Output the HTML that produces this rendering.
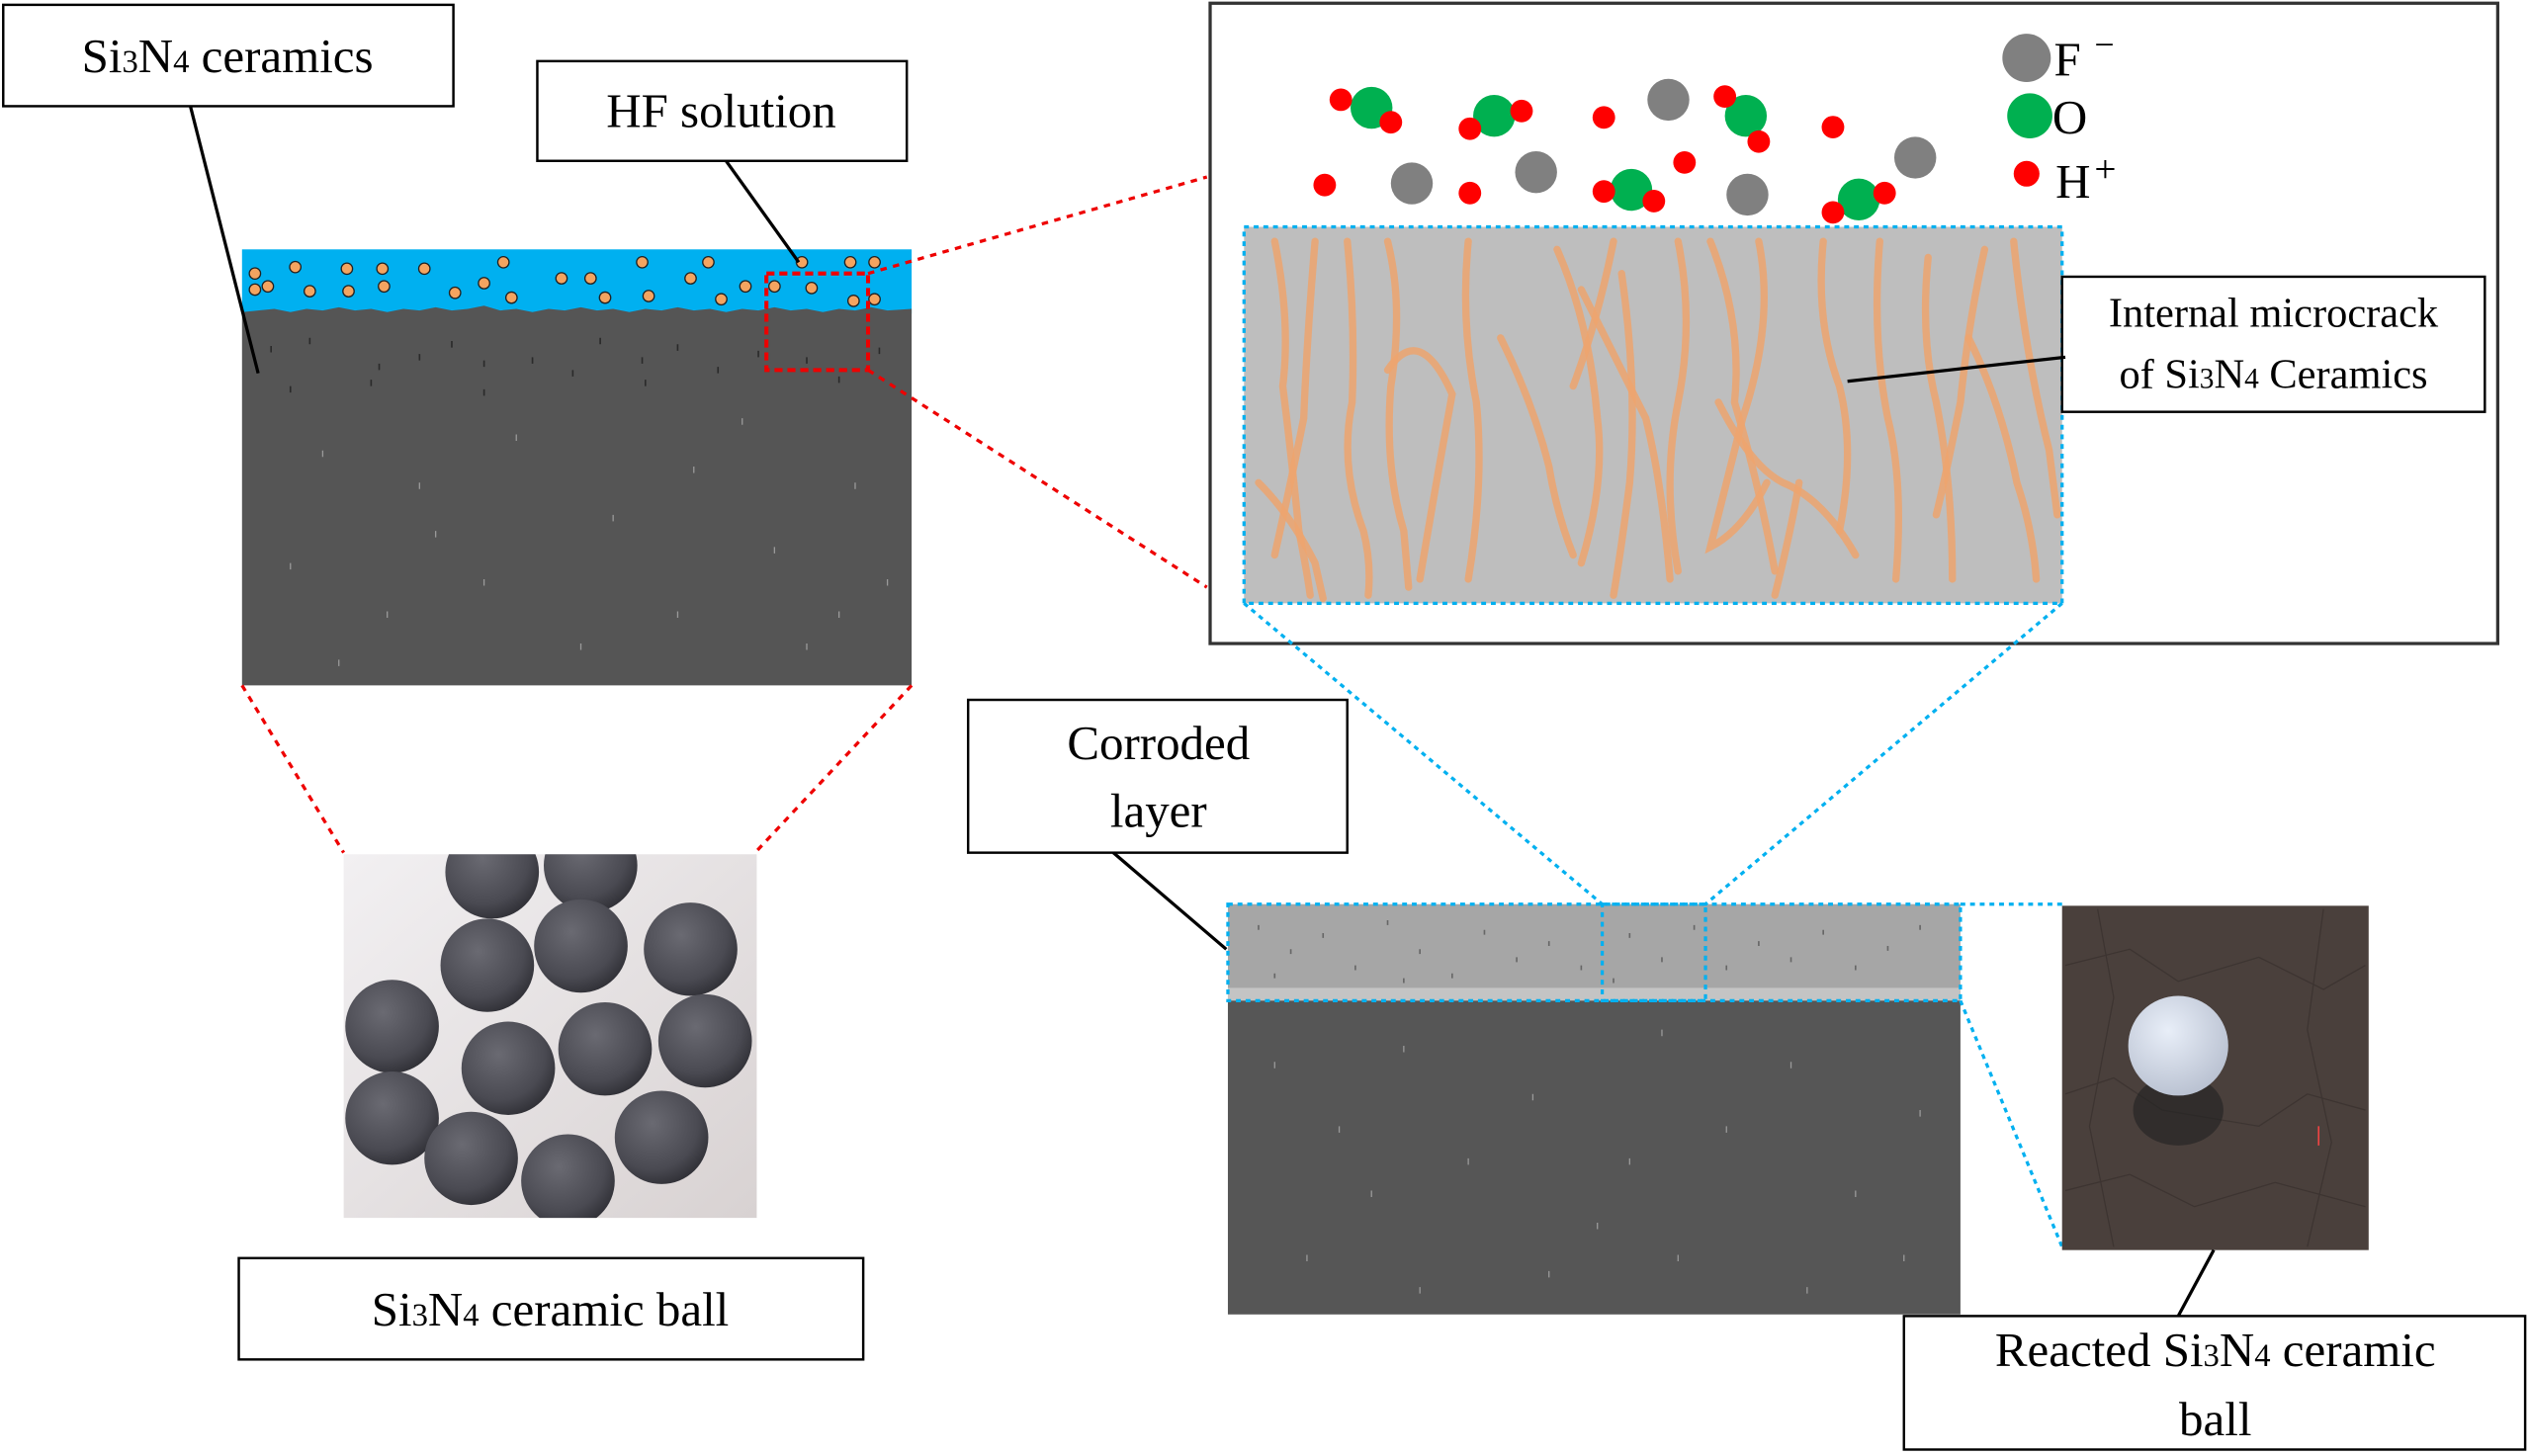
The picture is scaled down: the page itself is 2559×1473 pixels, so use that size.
<!DOCTYPE html>
<html><head><meta charset="utf-8"><style>
html,body{margin:0;padding:0;background:#fff;width:2559px;height:1473px;overflow:hidden}
svg{display:block}
text{font-family:"Liberation Serif",serif;fill:#000}
</style></head><body>
<svg width="2559" height="1473" viewBox="0 0 1568 905" preserveAspectRatio="none" xmlns="http://www.w3.org/2000/svg">
<defs>
<radialGradient id="ball" cx="0.4" cy="0.35" r="0.7"><stop offset="0" stop-color="#6a6a72"/><stop offset="0.7" stop-color="#4a4a52"/><stop offset="1" stop-color="#2e2e34"/></radialGradient>
<radialGradient id="wball" cx="0.4" cy="0.35" r="0.7"><stop offset="0" stop-color="#e8eef8"/><stop offset="1" stop-color="#b8c0d0"/></radialGradient>
<linearGradient id="bg1" x1="0" y1="0" x2="1" y2="1"><stop offset="0" stop-color="#f2f0f2"/><stop offset="1" stop-color="#d8d2d2"/></linearGradient>
</defs>

<!-- Left block -->
<rect x="150" y="155" width="415" height="40" fill="#00b0f0"/>
<path d="M150 194 L160 193 L170 192 L180 194 L190 192 L200 193 L210 191 L220 193 L230 192 L240 194 L250 192 L260 193 L270 191 L280 193 L290 192 L300 190 L310 193 L320 192 L330 194 L340 192 L350 193 L360 191 L370 193 L380 192 L390 194 L400 192 L410 193 L420 191 L430 193 L440 192 L450 194 L460 192 L470 193 L480 191 L490 193 L500 192 L510 194 L520 192 L530 193 L540 191 L550 193 L565 192 L565 426 L150 426 Z" fill="#555"/>
<g fill="#f4a460" stroke="#222" stroke-width="0.8">
<circle cx="158" cy="170" r="3.5"/><circle cx="166" cy="178" r="3.5"/><circle cx="183" cy="166" r="3.5"/><circle cx="158" cy="180" r="3.5"/><circle cx="192" cy="181" r="3.5"/>
<circle cx="215" cy="167" r="3.5"/><circle cx="216" cy="181" r="3.5"/><circle cx="237" cy="167" r="3.5"/><circle cx="238" cy="178" r="3.5"/><circle cx="263" cy="167" r="3.5"/>
<circle cx="282" cy="182" r="3.5"/><circle cx="300" cy="176" r="3.5"/><circle cx="312" cy="163" r="3.5"/><circle cx="317" cy="185" r="3.5"/><circle cx="348" cy="173" r="3.5"/>
<circle cx="366" cy="173" r="3.5"/><circle cx="375" cy="185" r="3.5"/><circle cx="398" cy="163" r="3.5"/><circle cx="402" cy="184" r="3.5"/><circle cx="428" cy="173" r="3.5"/>
<circle cx="439" cy="163" r="3.5"/><circle cx="447" cy="186" r="3.5"/><circle cx="462" cy="178" r="3.5"/><circle cx="480" cy="178" r="3.5"/><circle cx="497" cy="163" r="3.5"/>
<circle cx="503" cy="179" r="3.5"/><circle cx="527" cy="163" r="3.5"/><circle cx="529" cy="187" r="3.5"/><circle cx="542" cy="163" r="3.5"/><circle cx="542" cy="186" r="3.5"/>
</g>
<g stroke="#2a2a2a" stroke-width="1">
<path d="M168 215v4M192 210v4M235 226v4M260 220v4M280 212v4M300 224v4M330 222v4M355 230v4M372 210v4M398 222v4M420 214v4M445 228v4M470 218v4M500 222v4M520 234v4M545 216v4M180 240v4M230 236v4M300 242v4M400 236v4"/>
</g>
<g stroke="#9a9a9a" stroke-width="0.8">
<path d="M200 280v4M260 300v4M320 270v4M380 320v4M430 290v4M480 340v4M530 300v4M180 350v4M240 380v4M300 360v4M360 400v4M420 380v4M500 400v4M550 360v4M210 410v4M270 330v4M460 260v4M520 380v4"/>
</g>
<rect x="475" y="170" width="63" height="60" fill="none" stroke="#e00" stroke-width="2.5" stroke-dasharray="5,3"/>

<g stroke="#e00" stroke-width="2" stroke-dasharray="4,4" fill="none">
<line x1="538" y1="170" x2="748" y2="110"/>
<line x1="538" y1="230" x2="748" y2="365"/>
<line x1="150" y1="426" x2="213" y2="530"/>
<line x1="565" y1="426" x2="468" y2="530"/>
</g>

<rect x="213" y="531" width="256" height="226" fill="url(#bg1)"/>
<clipPath id="c1"><rect x="213" y="531" width="256" height="226"/></clipPath>
<g clip-path="url(#c1)" fill="url(#ball)">
<circle cx="305" cy="542" r="29"/><circle cx="366" cy="538" r="29"/><circle cx="302" cy="600" r="29"/><circle cx="360" cy="588" r="29"/><circle cx="428" cy="590" r="29"/>
<circle cx="243" cy="638" r="29"/><circle cx="315" cy="664" r="29"/><circle cx="375" cy="652" r="29"/><circle cx="437" cy="647" r="29"/><circle cx="243" cy="695" r="29"/>
<circle cx="292" cy="720" r="29"/><circle cx="352" cy="734" r="29"/><circle cx="410" cy="707" r="29"/>
</g>

<rect x="2" y="3" width="279" height="63" fill="#fff" stroke="#000" stroke-width="1.5"/>
<text x="141" y="45" font-size="30" text-anchor="middle">Si<tspan font-size="20">3</tspan>N<tspan font-size="20">4</tspan> ceramics</text>
<line x1="118" y1="66" x2="160" y2="232" stroke="#000" stroke-width="2"/>
<rect x="333" y="38" width="229" height="62" fill="#fff" stroke="#000" stroke-width="1.5"/>
<text x="447" y="79" font-size="30" text-anchor="middle">HF solution</text>
<line x1="450" y1="100" x2="495" y2="163" stroke="#000" stroke-width="2"/>
<rect x="148" y="782" width="387" height="63" fill="#fff" stroke="#000" stroke-width="1.5"/>
<text x="341" y="824" font-size="30" text-anchor="middle">Si<tspan font-size="20">3</tspan>N<tspan font-size="20">4</tspan> ceramic ball</text>

<rect x="750" y="2" width="798" height="398" fill="#fff" stroke="#333" stroke-width="2"/>
<rect x="771" y="141" width="507" height="234" fill="#bebebe"/>
<g stroke="#eda56e" stroke-opacity="0.85" stroke-width="4.5" fill="none" stroke-linecap="round">
<path d="M790 150 Q800 200 795 240 Q800 280 805 330 Q810 355 812 370"/>
<path d="M815 150 Q810 210 808 260 Q800 300 790 345"/>
<path d="M780 300 Q800 320 815 350 L820 372"/>
<path d="M835 150 Q840 200 838 250 Q830 290 845 330 Q850 350 848 370"/>
<path d="M860 150 Q870 190 862 240 Q858 290 870 330 L873 365"/>
<path d="M860 230 Q880 200 900 245 Q890 300 880 360"/>
<path d="M910 150 Q905 200 915 250 Q920 300 910 360"/>
<path d="M930 210 Q950 250 960 290 Q965 320 975 345"/>
<path d="M965 155 Q985 200 990 260 Q995 300 980 350"/>
<path d="M1000 150 Q990 200 975 240"/>
<path d="M980 180 Q1000 220 1020 260 Q1030 300 1035 360"/>
<path d="M1005 170 Q1015 240 1010 300 Q1005 340 1000 370"/>
<path d="M1040 150 Q1050 200 1040 250 Q1030 300 1040 355"/>
<path d="M1060 150 Q1080 200 1075 250 Q1090 300 1100 355"/>
<path d="M1090 150 Q1100 200 1080 260 Q1070 300 1060 340 Q1080 330 1095 300"/>
<path d="M1065 250 Q1085 290 1105 300 Q1130 310 1150 345"/>
<path d="M1100 370 Q1110 330 1115 300"/>
<path d="M1130 150 Q1125 200 1140 240 Q1150 280 1140 330"/>
<path d="M1165 150 Q1160 210 1170 260 Q1180 300 1175 360"/>
<path d="M1195 160 Q1190 210 1200 250 Q1210 300 1210 360"/>
<path d="M1230 155 Q1220 200 1215 250 Q1205 300 1200 320"/>
<path d="M1220 210 Q1240 250 1250 300 Q1260 330 1262 360"/>
<path d="M1248 150 Q1255 220 1270 280 L1275 320"/>
</g>
<rect x="771" y="141" width="507" height="234" fill="none" stroke="#00b0f0" stroke-width="2" stroke-dasharray="3,3"/>
<g>
<circle cx="850" cy="67" r="13" fill="#00b050"/><circle cx="831" cy="62" r="7" fill="#f00"/><circle cx="862" cy="76" r="7" fill="#f00"/>
<circle cx="926" cy="72" r="13" fill="#00b050"/><circle cx="911" cy="80" r="7" fill="#f00"/><circle cx="943" cy="69" r="7" fill="#f00"/>
<circle cx="1082" cy="72" r="13" fill="#00b050"/><circle cx="1069" cy="60" r="7" fill="#f00"/><circle cx="1090" cy="88" r="7" fill="#f00"/>
<circle cx="1011" cy="118" r="13" fill="#00b050"/><circle cx="994" cy="119" r="7" fill="#f00"/><circle cx="1025" cy="125" r="7" fill="#f00"/>
<circle cx="1152" cy="124" r="13" fill="#00b050"/><circle cx="1136" cy="132" r="7" fill="#f00"/><circle cx="1168" cy="120" r="7" fill="#f00"/>
<circle cx="994" cy="73" r="7" fill="#f00"/><circle cx="1044" cy="101" r="7" fill="#f00"/><circle cx="1136" cy="79" r="7" fill="#f00"/>
<circle cx="821" cy="115" r="7" fill="#f00"/><circle cx="911" cy="120" r="7" fill="#f00"/>
<g fill="#808080"><circle cx="875" cy="114" r="13"/><circle cx="952" cy="107" r="13"/><circle cx="1034" cy="62" r="13"/><circle cx="1083" cy="121" r="13"/><circle cx="1187" cy="98" r="13"/><circle cx="1256" cy="36" r="15"/></g>
<circle cx="1258" cy="72" r="14" fill="#00b050"/><circle cx="1256" cy="108" r="8" fill="#f00"/>
</g>
<text x="1273" y="47" font-size="30">F</text><text x="1298" y="35" font-size="22">−</text>
<text x="1272" y="83" font-size="30">O</text>
<text x="1274" y="123" font-size="30">H</text><text x="1298" y="113" font-size="24">+</text>
<rect x="1278" y="172" width="262" height="84" fill="#fff" stroke="#000" stroke-width="1.5"/>
<text x="1409" y="203" font-size="26" text-anchor="middle">Internal microcrack</text>
<text x="1409" y="241" font-size="26" text-anchor="middle">of Si<tspan font-size="18">3</tspan>N<tspan font-size="18">4</tspan> Ceramics</text>
<line x1="1145" y1="237" x2="1280" y2="222" stroke="#000" stroke-width="2"/>

<rect x="761" y="562" width="454" height="60" fill="#a6a6a6"/>
<rect x="761" y="614" width="454" height="8" fill="#c4c4c4"/>
<rect x="761" y="622" width="454" height="195" fill="#565656"/>
<g stroke="#666" stroke-width="1">
<path d="M780 575v3M800 590v3M820 580v3M840 600v3M860 572v3M880 590v3M900 605v3M920 578v3M940 595v3M960 585v3M980 600v3M1010 580v3M1030 595v3M1050 575v3M1070 600v3M1090 585v3M1110 595v3M1130 578v3M1150 600v3M1170 588v3M1190 575v3M790 605v3M870 608v3M1000 608v3"/>
</g>
<g stroke="#9a9a9a" stroke-width="0.8">
<path d="M790 660v4M830 700v4M870 650v4M910 720v4M950 680v4M990 760v4M1030 640v4M1070 700v4M1110 660v4M1150 740v4M1190 690v4M810 780v4M880 800v4M960 790v4M1040 780v4M1120 800v4M1180 780v4M850 740v4M1010 720v4"/>
</g>
<g stroke="#00b0f0" stroke-width="2" stroke-dasharray="3,3" fill="none">
<rect x="761" y="562" width="454" height="60"/>
<rect x="993" y="562" width="64" height="60"/>
<line x1="771" y1="375" x2="993" y2="562"/>
<line x1="1278" y1="375" x2="1057" y2="562"/>
<line x1="1215" y1="562" x2="1278" y2="562"/>
<line x1="1215" y1="622" x2="1278" y2="775"/>
</g>
<rect x="1278" y="563" width="190" height="214" fill="#4a403c"/>
<g stroke="#3a322f" stroke-width="0.8" fill="none" opacity="0.8">
<path d="M1280 600 L1320 590 L1350 610 L1400 595 L1440 615 L1466 600"/>
<path d="M1280 680 L1310 670 L1340 690 L1400 700 L1430 680 L1466 690"/>
<path d="M1280 740 L1320 730 L1360 750 L1410 735 L1466 750"/>
<path d="M1300 565 L1310 620 L1295 700 L1310 775"/>
<path d="M1440 565 L1430 640 L1445 710 L1430 775"/>
</g>
<ellipse cx="1350" cy="690" rx="28" ry="22" fill="#222" opacity="0.6"/>
<circle cx="1350" cy="650" r="31" fill="url(#wball)"/>
<line x1="1437" y1="700" x2="1437" y2="712" stroke="#e44" stroke-width="1"/>

<rect x="600" y="435" width="235" height="95" fill="#fff" stroke="#000" stroke-width="1.5"/>
<text x="718" y="472" font-size="30" text-anchor="middle">Corroded</text>
<text x="718" y="514" font-size="30" text-anchor="middle">layer</text>
<line x1="690" y1="530" x2="760" y2="590" stroke="#000" stroke-width="2"/>
<rect x="1180" y="818" width="385" height="83" fill="#fff" stroke="#000" stroke-width="1.5"/>
<text x="1373" y="849" font-size="30" text-anchor="middle">Reacted Si<tspan font-size="20">3</tspan>N<tspan font-size="20">4</tspan> ceramic</text>
<text x="1373" y="892" font-size="30" text-anchor="middle">ball</text>
<line x1="1372" y1="777" x2="1350" y2="818" stroke="#000" stroke-width="2"/>
</svg>
</body></html>
